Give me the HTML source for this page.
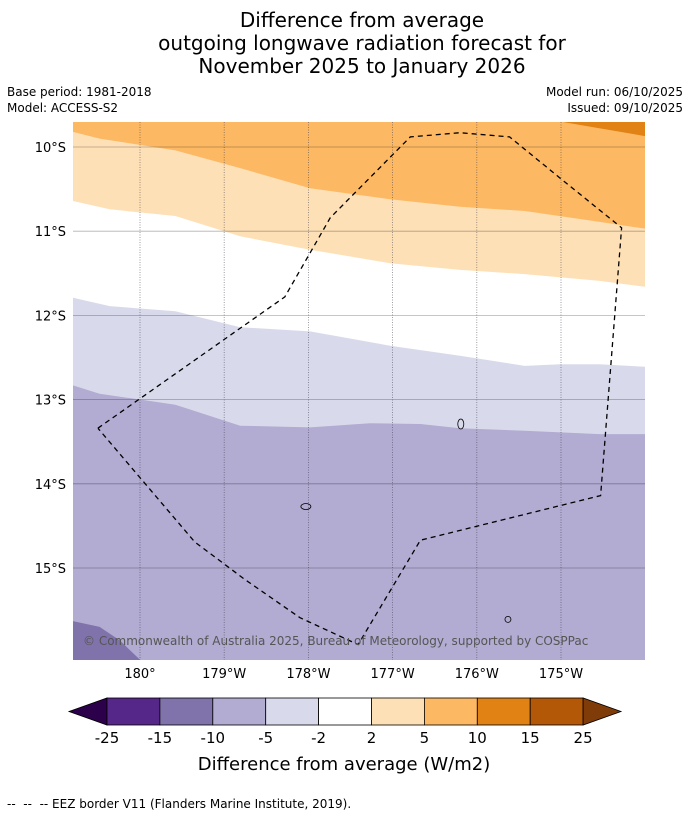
<!DOCTYPE html>
<html><head><meta charset="utf-8"><style>
html,body{margin:0;padding:0;background:#fff;width:690px;height:816px;overflow:hidden;font-family:"Liberation Sans","DejaVu Sans",sans-serif}
svg{position:absolute;left:0;top:0}
</style></head><body>
<svg width="690" height="816" font-family="DejaVu Sans, Liberation Sans, sans-serif">
<g id="titles" font-size="20" text-anchor="middle" fill="#000">
<text x="362" y="27">Difference from average</text>
<text x="362" y="50">outgoing longwave radiation forecast for</text>
<text x="362" y="73">November 2025 to January 2026</text>
</g>
<g font-size="12" fill="#000">
<text x="7" y="96">Base period: 1981-2018</text>
<text x="7" y="112">Model: ACCESS-S2</text>
<text x="683" y="96" text-anchor="end">Model run: 06/10/2025</text>
<text x="683" y="112" text-anchor="end">Issued: 09/10/2025</text>
</g>
<defs><clipPath id="mc"><rect x="73" y="122" width="572" height="538"/></clipPath></defs>
<g id="map" clip-path="url(#mc)"></g>
<g id="axes"></g>
<g id="cbar"></g>
<text x="344" y="770" font-size="18" text-anchor="middle">Difference from average (W/m2)</text>
<text x="7" y="808" font-size="12">-- &#160;-- &#160;-- EEZ border V11 (Flanders Marine Institute, 2019).</text>
</svg>
<script>
// contour boundaries [lon east, lat south]
const b10=[[185.0,9.70],[186.0,9.87]];
const b5=[[179.2,9.82],[179.52,9.90],[180.42,10.04],[181.19,10.25],[182.02,10.49],[182.97,10.62],[183.8,10.71],[184.57,10.76],[185.46,10.89],[186.0,10.97]];
const b2=[[179.2,10.64],[179.64,10.74],[180.42,10.82],[181.19,11.06],[182.02,11.22],[182.97,11.38],[183.8,11.46],[184.57,11.51],[185.46,11.59],[186.0,11.66]];
const bm2=[[179.2,11.79],[179.64,11.89],[180.42,11.95],[181.19,12.14],[182.02,12.19],[182.97,12.36],[183.8,12.48],[184.57,12.60],[184.99,12.58],[185.46,12.58],[186.0,12.61]];
const bm5=[[179.2,12.83],[179.52,12.93],[180.42,13.06],[181.19,13.31],[182.02,13.33],[182.73,13.28],[183.33,13.29],[183.8,13.34],[184.57,13.37],[185.46,13.41],[186.0,13.41]];
const bm10=[[179.2,15.63],[179.52,15.70],[179.76,15.86],[180.0,16.09]];
const eez=[[179.5,13.34],[181.72,11.78],[182.26,10.84],[183.21,9.88],[183.8,9.83],[184.39,9.88],[184.99,10.37],[185.72,10.96],[185.47,14.14],[183.33,14.67],[182.59,15.91],[181.9,15.59],[181.25,15.14],[180.65,14.69],[179.5,13.34]];
const latTicks=[10,11,12,13,14,15];
const lonTicks=[180,181,182,183,184,185];
const lonLabels=["180°","179°W","178°W","177°W","176°W","175°W"];
const levels=["-25","-15","-10","-5","-2","2","5","10","15","25"];
const colors=["#2d004b","#542788","#8073ac","#b2abd2","#d8daeb","#ffffff","#fee0b6","#fdb863","#e08214","#b35806","#7f3b08"];
const X=lon=>140+(lon-180)*84.2, Y=lat=>147+(lat-10)*84.2;
const NS="http://www.w3.org/2000/svg";
function mk(t,a,p){const e=document.createElementNS(NS,t);for(const k in a)e.setAttribute(k,a[k]);p.appendChild(e);return e;}
const pts=a=>a.map(p=>X(p[0]).toFixed(1)+","+Y(p[1]).toFixed(1)).join(" ");
const map=document.getElementById('map');
let r=mk('rect',{x:73,y:122,width:572,height:538,fill:colors[3]},map);


[[bm5,colors[4],'region-minus2-to-minus5'],[bm2,colors[5],'region-neutral'],[b2,colors[6],'region-2-to-5'],[b5,colors[7],'region-5-to-10']].forEach(([b,c,n])=>{
 const p=mk('polygon',{points:"60,"+Y(b[0][1]).toFixed(1)+" "+pts(b)+" 660,"+Y(b[b.length-1][1]).toFixed(1)+" 660,110 60,110",fill:c},map);
 
 
});
let p10=mk('polygon',{points:pts(b10)+" 660,"+Y(b10[1][1]).toFixed(1)+" 660,110",fill:colors[8]},map);


let pm10=mk('polygon',{points:pts(bm10)+" 60,680 60,"+Y(bm10[0][1]).toFixed(1),fill:colors[2]},map);


latTicks.forEach(t=>{const l=mk('line',{x1:73,x2:645,y1:Y(t),y2:Y(t),stroke:"#000",'stroke-opacity':0.3,'stroke-width':0.8},map);
 
 });
lonTicks.forEach(t=>{const l=mk('line',{x1:X(t),x2:X(t),y1:122,y2:660,stroke:"#334",'stroke-opacity':0.6,'stroke-width':0.8,'stroke-dasharray':'1,1.5'},map);
 
 });
[[183.81,13.29,3,5],[181.97,14.27,5,3],[184.37,15.61,3,3]].forEach(i=>{const e=mk('ellipse',{cx:X(i[0]),cy:Y(i[1]),rx:i[2],ry:i[3],fill:"none",stroke:"#000",'stroke-width':0.8},map);
 
 });
let ez=mk('polyline',{points:pts(eez),fill:"none",stroke:"#000",'stroke-width':1.3,'stroke-dasharray':'5,4'},map);


let cp=mk('text',{x:83,y:645,'font-size':12,fill:"#555"},map);cp.textContent="© Commonwealth of Australia 2025, Bureau of Meteorology, supported by COSPPac";


const ax=document.getElementById('axes');
latTicks.forEach(t=>{const e=mk('text',{x:66,y:Y(t)+5,'font-size':13,'text-anchor':'end'},ax);e.textContent=t+"°S";
 
 });
lonTicks.forEach((t,i)=>{const e=mk('text',{x:X(t),y:678,'font-size':13,'text-anchor':'middle'},ax);e.textContent=lonLabels[i];
 
 });
const cb=document.getElementById('cbar');
const x0=107,w=52.9,yt=698,h=27;
let tl=mk('polygon',{points:`${x0},${yt} ${x0},${yt+h} 69,${yt+h/2}`,fill:colors[0],stroke:"#000",'stroke-width':0.8},cb);


for(let i=1;i<=9;i++){const e=mk('rect',{x:x0+(i-1)*w,y:yt,width:w,height:h,fill:colors[i],stroke:"#000",'stroke-width':0.8},cb);
 
 }
const xe=x0+9*w;
let tr=mk('polygon',{points:`${xe},${yt} ${xe},${yt+h} 621,${yt+h/2}`,fill:colors[10],stroke:"#000",'stroke-width':0.8},cb);


levels.forEach((l,i)=>{const e=mk('text',{x:x0+i*w,y:743,'font-size':15,'text-anchor':'middle'},cb);e.textContent=l;
 
 });
</script>
</body></html>
